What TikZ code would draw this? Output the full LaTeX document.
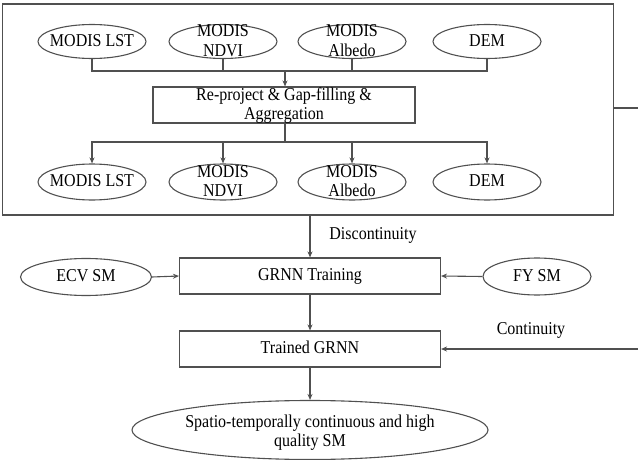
\documentclass[tikz,border=0pt]{standalone}
\usepackage{fontspec}
\usepackage{graphicx}
\setmainfont{Liberation Serif}
\usetikzlibrary{shapes.geometric,arrows.meta}
\definecolor{ln}{HTML}{505050}
\newcommand{\st}[1]{\scalebox{1}[1.13]{\begin{tabular}{@{}c@{}}#1\end{tabular}}}
\begin{document}
\begin{tikzpicture}[x=1pt,y=-1pt,
  every node/.style={font=\fontsize{16}{17.5}\selectfont, text=black},
  ell/.style={draw=ln, line width=1.1pt, ellipse, inner sep=0pt, minimum width=108pt, minimum height=34pt},
  bx/.style={draw=ln, line width=1.1pt, rectangle, inner sep=0pt},
  txt/.style={align=center, inner sep=0pt},
  con/.style={draw=ln, line width=1.1pt},
  arr/.style={con, -{Stealth[length=6pt,width=5pt]}}]
\useasboundingbox (0,0) rectangle (638,460);

% outer box
\node[bx, minimum width=611pt, minimum height=211pt] (outer) at (307.75,109.5) {};

% top ellipses
\node[ell] (t1) at (92,41.5) {};
\node[ell] (t2) at (223,41.5) {};
\node[ell] (t3) at (352,41.5) {};
\node[ell] (t4) at (487,41.5) {};
\node[txt] (t1l) at (92,42.5) {\st{MODIS LST}};
\node[txt] (t2l) at (223,42.5) {\st{MODIS\\NDVI}};
\node[txt] (t3l) at (352,42.5) {\st{MODIS\\Albedo}};
\node[txt] (t4l) at (487,42.5) {\st{DEM}};

% processing box
\node[bx, minimum width=262pt, minimum height=36pt] (rp) at (284,105) {};
\node[txt] (rpl) at (284,106) {\st{Re-project \& Gap-filling \&\\Aggregation}};

% bottom ellipses
\node[ell, minimum height=36pt] (b1) at (92,182) {};
\node[ell, minimum height=36pt] (b2) at (223,182) {};
\node[ell, minimum height=36pt] (b3) at (352,182) {};
\node[ell, minimum height=36pt] (b4) at (487,182) {};
\node[txt] (b1l) at (92,183) {\st{MODIS LST}};
\node[txt] (b2l) at (223,183) {\st{MODIS\\NDVI}};
\node[txt] (b3l) at (352,183) {\st{MODIS\\Albedo}};
\node[txt] (b4l) at (487,183) {\st{DEM}};

% junctions
\coordinate (j1) at (285,71);
\coordinate (j2) at (285,142);
\coordinate (rc) at (648,108);

\draw[con] (t1.south) |- (j1);
\draw[con] (t2.south) |- (j1);
\draw[con] (t3.south) |- (j1);
\draw[con] (t4.south) |- (j1);
\draw[arr] (j1) -- (j1 |- rp.north);
\draw[con] (j2 |- rp.south) -- (j2);
\draw[arr] (j2) -| (b1.north);
\draw[arr] (j2) -| (b2.north);
\draw[arr] (j2) -| (b3.north);
\draw[arr] (j2) -| (b4.north);

% lower part
\node[bx, minimum width=261pt, minimum height=36pt] (grnn) at (310,276) {};
\node[txt] (grnnl) at (310,277) {\st{GRNN Training}};
\node[bx, minimum width=261pt, minimum height=36pt] (trained) at (310,349) {};
\node[txt] (trainedl) at (310,350) {\st{Trained GRNN}};
\node[ell, minimum width=131pt, minimum height=37pt] (ecv) at (86,277) {};
\node[txt] (ecvl) at (86,278) {\st{ECV SM}};
\node[ell, minimum width=108pt, minimum height=37pt] (fy) at (537,276.5) {};
\node[txt] (fyl) at (537,277.5) {\st{FY SM}};
\node[ell, minimum width=356pt, minimum height=59pt] (final) at (310,430) {};
\node[txt] (finall) at (310,433) {\st{Spatio-temporally continuous and high\\quality SM}};

\node[txt] (disc) at (373,236) {\st{Discontinuity}};
\node[txt] (cont) at (531,331) {\st{Continuity}};

\draw[arr] (grnn.north |- outer.south) -- (grnn.north);
\draw[arr] (ecv.east) -- (grnn.west);
\draw[arr] (fy.west) -- (grnn.east);
\draw[arr] (grnn.south) -- (trained.north);
\draw[arr] (trained.south) -- (final.north);
\draw[con] (outer.east |- rc) -- (rc);
\draw[arr] (rc) |- (trained.east);
\end{tikzpicture}
\end{document}
